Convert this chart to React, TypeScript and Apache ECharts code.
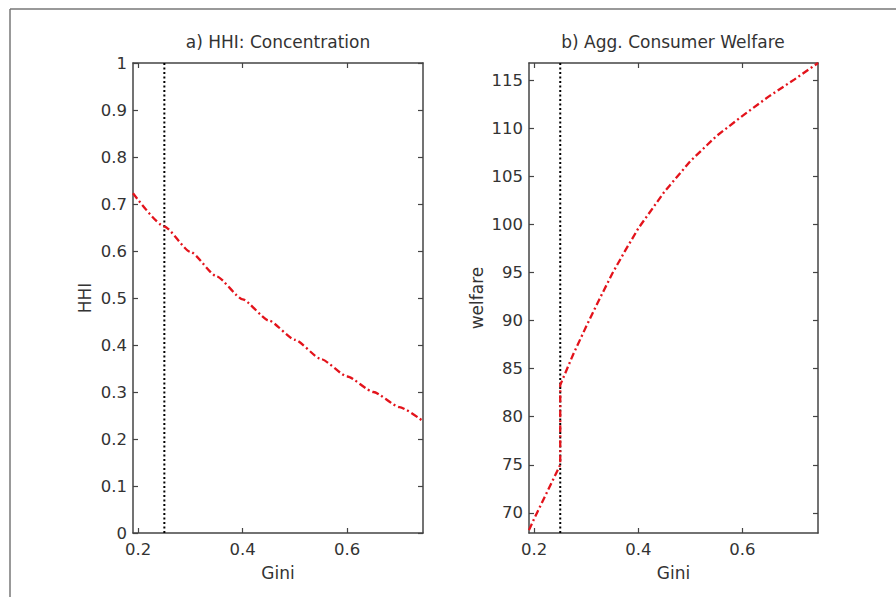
import React, { useEffect, useRef } from "react";
import * as echarts from "echarts";

// Panel a) HHI vs Gini
const giniHHI = [0.19, 0.25, 0.3, 0.35, 0.4, 0.45, 0.5, 0.55, 0.6, 0.65, 0.7, 0.745];
const hhiValues = [0.723, 0.652, 0.598, 0.546, 0.497, 0.452, 0.411, 0.37, 0.333, 0.3, 0.268, 0.238];

// Panel b) Welfare vs Gini
const giniWelfare = [0.19, 0.2, 0.225, 0.25, 0.25, 0.275, 0.3, 0.325, 0.35, 0.375, 0.4, 0.45, 0.5, 0.55, 0.6, 0.65, 0.7, 0.745];
const welfareValues = [68.2, 69.4, 72.2, 75.0, 83.3, 86.5, 89.4, 92.2, 94.9, 97.3, 99.6, 103.4, 106.6, 109.2, 111.3, 113.3, 115.1, 116.8];

// Vertical reference line
const refGini = [0.25];

// Axis ranges and tick labels
const giniRange = [0.19, 0.745];
const hhiRange = [0, 1];
const welfareRange = [67.9, 116.8];
const giniTicks = [0.2, 0.4, 0.6];
const hhiTicks = [0, 0.1, 0.2, 0.3, 0.4, 0.5, 0.6, 0.7, 0.8, 0.9, 1];
const welfareTicks = [70, 75, 80, 85, 90, 95, 100, 105, 110, 115];

const titles = ["a) HHI: Concentration", "b) Agg. Consumer Welfare"];
const xName = "Gini";
const yNames = ["HHI", "welfare"];

const FONT = "DejaVu Sans, Verdana, sans-serif";
const TEXT = "#333";
const AXIS = "#444";
const RED = "#e3131b";

function makeX(gridIndex: number, top: boolean, name?: string) {
  return {
    type: "value",
    gridIndex,
    position: top ? "top" : "bottom",
    min: giniRange[0],
    max: giniRange[1],
    name: name || "",
    nameLocation: "middle",
    nameGap: 31,
    nameTextStyle: { fontFamily: FONT, fontSize: 17, color: TEXT },
    axisLine: { show: true, onZero: false, lineStyle: { color: AXIS, width: 1.5 } },
    axisTick: { show: true, inside: true, length: 5, customValues: giniTicks, lineStyle: { color: AXIS, width: 1.2 } },
    axisLabel: {
      show: !top,
      customValues: giniTicks,
      margin: 8,
      fontFamily: FONT,
      fontSize: 16.5,
      color: TEXT,
    },
    splitLine: { show: false },
  };
}

function makeY(gridIndex: number, right: boolean, range: number[], ticks: number[], name: string, nameGap: number) {
  return {
    type: "value",
    gridIndex,
    position: right ? "right" : "left",
    min: range[0],
    max: range[1],
    name: right ? "" : name,
    nameLocation: "middle",
    nameGap,
    nameTextStyle: { fontFamily: FONT, fontSize: 17, color: TEXT },
    axisLine: { show: true, onZero: false, lineStyle: { color: AXIS, width: 1.5 } },
    axisTick: { show: true, inside: true, length: 5, customValues: ticks, lineStyle: { color: AXIS, width: 1.2 } },
    axisLabel: {
      show: !right,
      customValues: ticks,
      margin: 6,
      fontFamily: FONT,
      fontSize: 16.5,
      color: TEXT,
    },
    splitLine: { show: false },
  };
}

export default function App() {
  const ref = useRef<HTMLDivElement>(null);

  useEffect(() => {
    if (!ref.current) return;
    const chart = echarts.init(ref.current, undefined, { renderer: "svg" });

    const hhiData = giniHHI.map((g, i) => [g, hhiValues[i]]);
    const welfareData = giniWelfare.map((g, i) => [g, welfareValues[i]]);

    chart.setOption({
      animation: false,
      backgroundColor: "#fff",
      title: [
        {
          text: titles[0],
          left: 278,
          top: 33,
          textAlign: "center",
          padding: 0,
          textStyle: { fontFamily: FONT, fontSize: 17, fontWeight: "normal", color: TEXT },
        },
        {
          text: titles[1],
          left: 673,
          top: 33,
          textAlign: "center",
          padding: 0,
          textStyle: { fontFamily: FONT, fontSize: 17, fontWeight: "normal", color: TEXT },
        },
      ],
      grid: [
        { left: 133, top: 63, width: 290, height: 470 },
        { left: 529, top: 63, width: 289, height: 470 },
      ],
      xAxis: [makeX(0, false, xName), makeX(0, true), makeX(1, false, xName), makeX(1, true)],
      yAxis: [
        makeY(0, false, hhiRange, hhiTicks, yNames[0], 40),
        makeY(0, true, hhiRange, hhiTicks, "", 0),
        makeY(1, false, welfareRange, welfareTicks, yNames[1], 44),
        makeY(1, true, welfareRange, welfareTicks, "", 0),
      ],
      graphic: [
        { type: "line", shape: { x1: 10, y1: 9, x2: 896, y2: 9 }, style: { stroke: "#777", lineWidth: 1.5 }, silent: true },
        { type: "line", shape: { x1: 10, y1: 9, x2: 10, y2: 597 }, style: { stroke: "#777", lineWidth: 1.5 }, silent: true },
      ],
      series: [
        {
          type: "line",
          xAxisIndex: 0,
          yAxisIndex: 0,
          data: [
            [refGini[0], hhiRange[0]],
            [refGini[0], hhiRange[1]],
          ],
          symbol: "none",
          lineStyle: { color: "#000", width: 2, type: [2, 2.5] },
          z: 3,
        },
        {
          type: "line",
          xAxisIndex: 0,
          yAxisIndex: 0,
          data: hhiData,
          symbol: "none",
          smooth: 0.2,
          smoothMonotone: "x",
          lineStyle: { color: RED, width: 2.3, type: [7, 3, 2, 3] },
          z: 4,
        },
        {
          type: "line",
          xAxisIndex: 2,
          yAxisIndex: 2,
          data: [
            [refGini[0], welfareRange[0]],
            [refGini[0], welfareRange[1]],
          ],
          symbol: "none",
          lineStyle: { color: "#000", width: 2, type: [2, 2.5] },
          z: 3,
        },
        {
          type: "line",
          xAxisIndex: 2,
          yAxisIndex: 2,
          data: welfareData,
          symbol: "none",
          lineStyle: { color: RED, width: 2.3, type: [7, 3, 2, 3] },
          z: 4,
        },
      ],
    });

    return () => chart.dispose();
  }, []);

  return (
    <div
      ref={ref}
      style={{ position: "fixed", left: 0, top: 0, width: 896, height: 597, background: "#fff" }}
    />
  );
}
